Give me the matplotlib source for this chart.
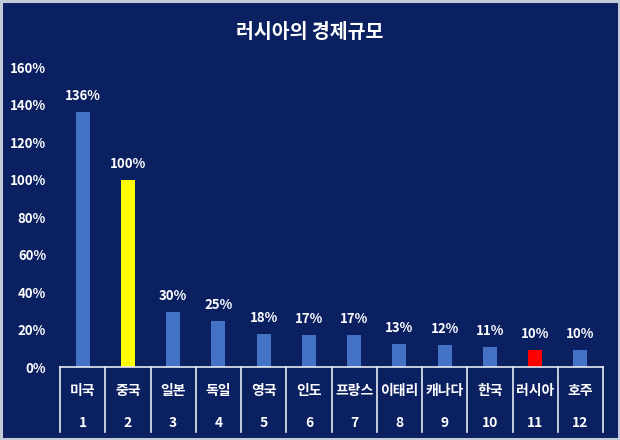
import matplotlib
matplotlib.use("Agg")
import matplotlib.pyplot as plt
from matplotlib.patches import Rectangle
import matplotlib.transforms as mtransforms

plt.rcParams['font.family'] = ['Noto Sans CJK KR', 'DejaVu Sans']

countries = ['미국', '중국', '일본', '독일', '영국', '인도', '프랑스', '이태리', '캐나다', '한국', '러시아', '호주']
ranks = ['1', '2', '3', '4', '5', '6', '7', '8', '9', '10', '11', '12']
values = [136, 100, 29.6, 24.6, 17.7, 17.0, 17.0, 12.2, 11.8, 10.5, 9.3, 8.9]
value_labels = ['136%', '100%', '30%', '25%', '18%', '17%', '17%', '13%', '12%', '11%', '10%', '10%']
yticks = [0, 20, 40, 60, 80, 100, 120, 140, 160]

bg = '#0b2060'
bar_colors = ['#4472c4'] * len(countries)
bar_colors[1] = '#ffff00'
bar_colors[10] = '#ff0000'

fig = plt.figure(figsize=(6.2, 4.4), dpi=100)
fig.patch.set_facecolor(bg)
fig.patches.append(Rectangle((0.0015, 0.002), 0.997, 0.996, transform=fig.transFigure,
                             fill=False, edgecolor='#c3cad8', linewidth=2.2))

ax = fig.add_axes([60 / 620, (440 - 367) / 440, 543 / 620, 300 / 440])
ax.set_facecolor(bg)

x = list(range(len(countries)))
bars = ax.bar(x, values, width=0.31, color=bar_colors)
for xi, v, lab in zip(x, values, value_labels):
    ax.text(xi, v + 8.5, lab, ha='center', va='center', color='white',
            fontsize=9.5, fontweight='bold')

ax.set_xlim(-0.5, len(countries) - 0.5)
ax.set_ylim(0, 160)
ax.set_yticks(yticks)
ax.set_yticklabels([f'{t}%' for t in yticks], color='white', fontsize=9.5, fontweight='bold')
ax.tick_params(axis='y', length=0, pad=10)
ax.set_xticks([])
for s in ['left', 'right', 'top']:
    ax.spines[s].set_visible(False)
ax.spines['bottom'].set_color('#e8ecf4')
ax.spines['bottom'].set_linewidth(1.2)

# table under the axis
trans = mtransforms.blended_transform_factory(ax.transData, ax.transAxes)
bottom = -65 / 300
for b in range(len(countries) + 1):
    ax.plot([b - 0.5, b - 0.5], [0, bottom], transform=trans, color='#e8ecf4',
            linewidth=1.2, clip_on=False)
for xi, name, r in zip(x, countries, ranks):
    ax.text(xi, -24 / 300, name, transform=trans, ha='center', va='center',
            color='white', fontsize=10, fontweight='bold')
    ax.text(xi, -56 / 300, r, transform=trans, ha='center', va='center',
            color='white', fontsize=10, fontweight='bold')

fig.text(0.5, 1 - 32 / 440, '러시아의 경제규모', ha='center', va='center',
         color='white', fontsize=14, fontweight='bold')

fig.savefig('out.png', dpi=100, facecolor=bg)
